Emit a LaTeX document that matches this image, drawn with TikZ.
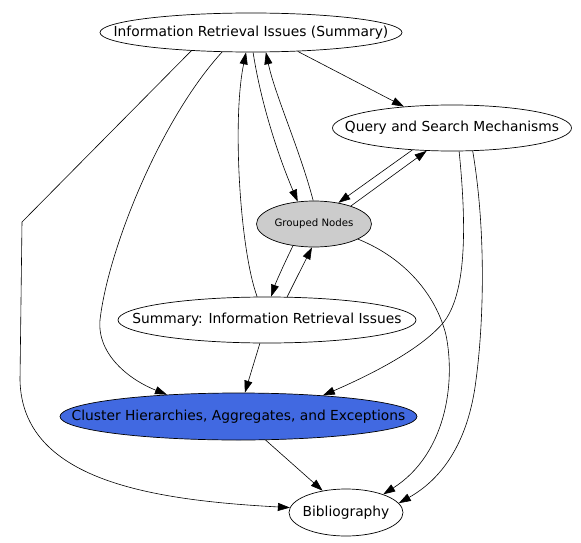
\documentclass[tikz,border=0pt]{standalone}
\usepackage{fontspec}
\setmainfont{DejaVu Sans}
\usetikzlibrary{shapes.geometric,arrows.meta}
\definecolor{clusterblue}{RGB}{65,105,225}
\definecolor{groupgray}{RGB}{204,204,204}
\newcommand\topicsize{\fontsize{13.8}{16}\selectfont}
\newcommand\groupsize{\fontsize{10.2}{12}\selectfont}

\begin{document}
\begin{tikzpicture}[>={Triangle[length=12pt,width=8pt]}, x=1pt, y=-1pt]
	\tikzstyle{every node}=[font=\topicsize]
	\tikzstyle{topic}=[ellipse, draw, inner sep=0pt, line width=0.7pt,
		execute at begin node={\hbox to 0pt\bgroup\hss}, execute at end node={\hss\egroup}]
	\tikzstyle{edge}=[->, line width=0.6pt]
	
	\useasboundingbox (0,0) rectangle (581,543);
	
	%topics
	\node[topic, minimum width=302, minimum height=39] (iri) at (251,32.5) {Information Retrieval Issues (Summary)};
	\node[topic, minimum width=239, minimum height=46] (query) at (452,128) {Query and Search Mechanisms};
	\node[topic, fill=groupgray, font=\groupsize, minimum width=115, minimum height=46] (grouped) at (314,224) {Grouped Nodes};
	\node[topic, minimum width=298, minimum height=46] (summary) at (267,320) {Summary: Information Retrieval Issues};
	\node[topic, fill=clusterblue, minimum width=357, minimum height=47] (cluster) at (238.5,416.5) {Cluster Hierarchies, Aggregates, and Exceptions};
	\node[topic, minimum width=114, minimum height=47] (bib) at (346,512.5) {Bibliography};
	
	%around the grouped nodes
	\draw[edge] (iri.-22) -- (query.156);
	\draw[edge] (iri.-84) .. controls (262,110) and (282,165) .. (grouped.126);
	\draw[edge] (grouped.92) .. controls (300,150) and (275,95) .. (iri.-53);
	\draw[edge] (query.-151) -- (grouped.41);
	\draw[edge] (grouped.26) -- (query.-138);
	\draw[edge] (grouped.-134) .. controls (285,262) and (276,282) .. (summary.80);
	\draw[edge] (summary.49) -- (grouped.-95);
	\draw[edge] (summary.113) .. controls (240,250) and (232,120) .. (iri.-104);
	
	%down to the cluster
	\draw[edge] (iri.-146) .. controls (160,120) and (108,250) .. (100,320) .. controls (97,355) and (130,380) .. (cluster.163);
	\draw[edge] (summary.-107) -- (cluster.75);
	\draw[edge] (query.-73) .. controls (467,230) and (466,295) .. (443,323) .. controls (420,350) and (370,375) .. (cluster.14);
	
	%down to the bibliography
	\draw[edge] (iri.-163) -- (22,222) -- (20,380) .. controls (22,480) and (150,500) .. (bib.175);
	\draw[edge] (grouped.-19) .. controls (405,258) and (436,295) .. (446,335) .. controls (456,385) and (445,455) .. (bib.26);
	\draw[edge] (query.-48) .. controls (486,230) and (484,320) .. (476,380) .. controls (468,445) and (440,480) .. (bib.10);
	\draw[edge] (cluster.-41) -- (bib.137);
\end{tikzpicture}
\end{document}
